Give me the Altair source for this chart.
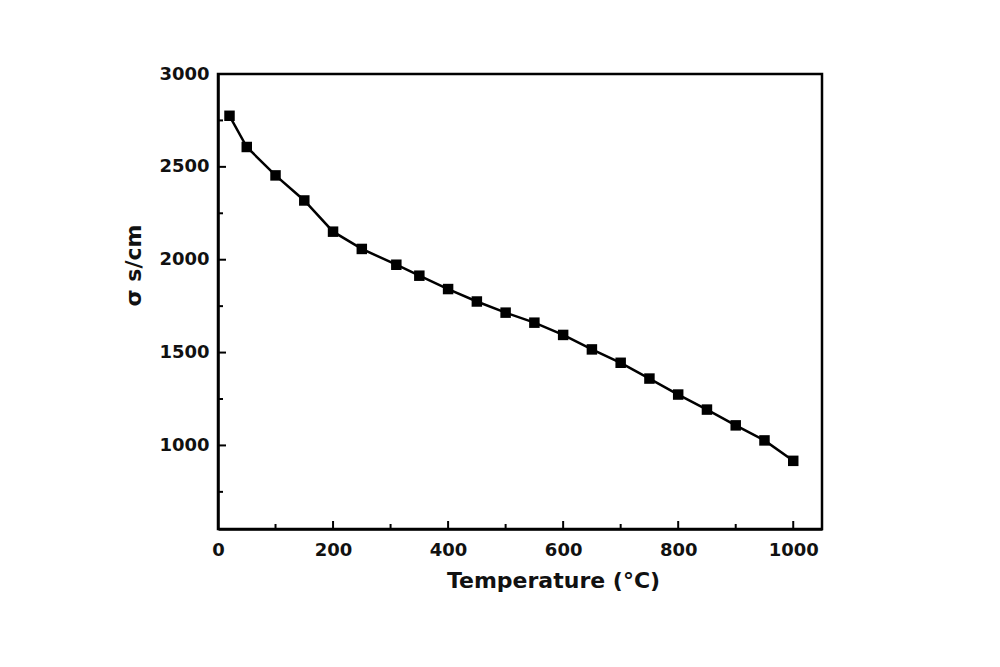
import altair as alt
import pandas as pd

temps = [20, 50, 100, 150, 200, 250, 310, 350, 400, 450, 500, 550, 600, 650, 700, 750, 800, 850, 900, 950, 1000]
sigma = [2775, 2607, 2454, 2319, 2151, 2058, 1973, 1914, 1842, 1775, 1715, 1661, 1595, 1517, 1445, 1360, 1274, 1193, 1108, 1027, 917]

x_major = [0, 200, 400, 600, 800, 1000]
x_minor = [100, 300, 500, 700, 900]
y_major = [1000, 1500, 2000, 2500, 3000]
y_minor = [750, 1250, 1750, 2250, 2750]

W, H = 604, 455
FONT = "DejaVu Sans"

df = pd.DataFrame({"T": temps, "s": sigma})

xscale = alt.Scale(domain=[0, 1050], nice=False, zero=False)
yscale = alt.Scale(domain=[550, 3000], nice=False, zero=False)

xaxis = alt.Axis(values=x_major, format="d", ticks=False, tickSize=0, grid=False,
                 labelFlush=False, domainColor="black", domainWidth=2.5,
                 labelFont=FONT, labelFontSize=18, labelFontWeight="bold", labelColor="#111",
                 labelPadding=12,
                 title="Temperature (°C)", titleFont=FONT, titleFontSize=22, titleFontWeight="bold",
                 titleColor="#111", titleX=335, titleY=51, titleBaseline="middle", titleAlign="center")
yaxis = alt.Axis(values=y_major, format="d", ticks=False, tickSize=0, grid=False,
                 labelFlush=False, domainColor="black", domainWidth=2.5,
                 labelFont=FONT, labelFontSize=18, labelFontWeight="bold", labelColor="#111",
                 labelPadding=9,
                 title="σ s/cm", titleFont=FONT, titleFontSize=22, titleFontWeight="bold",
                 titleColor="#111", titleX=-85, titleY=191, titleAngle=270,
                 titleBaseline="middle", titleAlign="center")

line = alt.Chart(df).mark_line(color="black", strokeWidth=2.5).encode(
    x=alt.X("T:Q", scale=xscale, axis=xaxis),
    y=alt.Y("s:Q", scale=yscale, axis=yaxis),
)
pts = alt.Chart(df).mark_point(shape="square", filled=True, color="black", size=110, opacity=1).encode(
    x=alt.X("T:Q", scale=xscale),
    y=alt.Y("s:Q", scale=yscale),
)

def xticks(vals, length):
    d = pd.DataFrame({"v": vals})
    return alt.Chart(d).mark_rule(color="black", strokeWidth=2).encode(
        x=alt.X("v:Q", scale=xscale),
        y=alt.value(H), y2=alt.value(H - length))

def yticks(vals, length):
    d = pd.DataFrame({"v": vals})
    return alt.Chart(d).mark_rule(color="black", strokeWidth=2).encode(
        y=alt.Y("v:Q", scale=yscale),
        x=alt.value(0), x2=alt.value(length))

chart = alt.layer(
    xticks(x_major, 8), xticks(x_minor, 5), yticks(y_major, 8), yticks(y_minor, 5), line, pts
).properties(
    width=W, height=H,
    padding={"left": 210, "top": 66, "right": 160, "bottom": 120},
    autosize="none",
    background="white",
).configure_view(stroke="black", strokeWidth=2.5)

chart.save("out.html", embed_options={"renderer": "svg", "actions": False})
